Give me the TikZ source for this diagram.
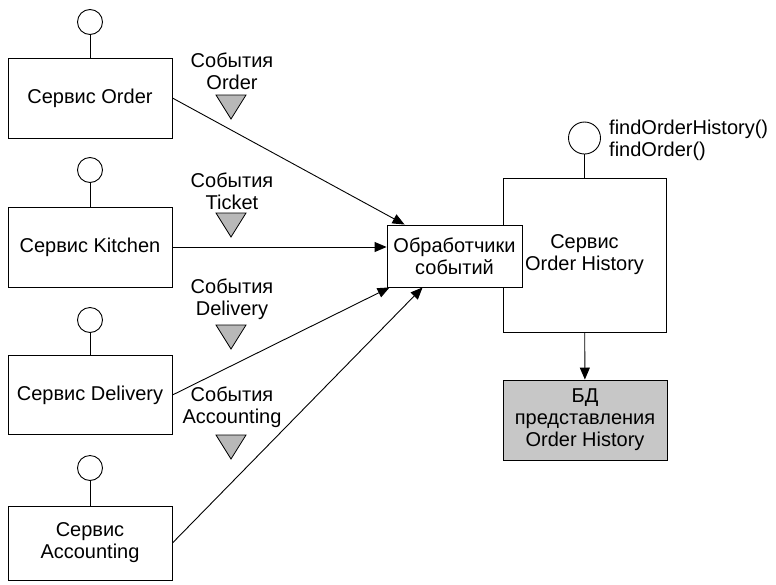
\documentclass[tikz,border=0pt]{standalone}
\usepackage{fontspec}
\setmainfont{Liberation Sans}
\usetikzlibrary{arrows.meta}

\begin{document}
\begin{tikzpicture}[x=1pt, y=-1pt,
    svc/.style={draw, line width=0.9pt, fill=white, minimum width=164pt,
        minimum height=80pt, align=center, inner sep=2pt},
    port/.style={draw, line width=0.9pt, circle, fill=white,
        minimum size=25pt, inner sep=0pt},
    evtri/.style={draw, line width=0.8pt, fill=black!28},
    flow/.style={line width=0.9pt, -{Triangle[length=12pt, width=10pt]}},
    font=\fontsize{20}{22}\selectfont]
    \useasboundingbox (0,0) rectangle (776,584);

    % Сервисы, публикующие события
    \node[svc] (ordersvc) at (90,98) {Сервис Order};
    \node[svc] (kitchensvc) at (90,247) {Сервис Kitchen};
    \node[svc, minimum height=79pt] (deliverysvc) at (90,395) {Сервис Delivery};
    \node[svc, minimum height=74pt] (accountingsvc) at (90,543) {Сервис\\Accounting};

    \foreach \svc/\y in {ordersvc/22, kitchensvc/170, deliverysvc/320, accountingsvc/468} {
        \node[port] (\svc-port) at (90,\y) {};
        \draw[line width=0.9pt] (\svc-port) -- (\svc);
    }

    % Каналы событий
    \foreach \name/\y/\dy in {Order/71/24, Ticket/191/22, Delivery/299/26, Accounting/407/28} {
        \node[align=center] (ev-\name) at (232,\y) {События\\\name};
        \draw[evtri] (216,\y+\dy) -- (246,\y+\dy) -- (231,\y+\dy+24) -- cycle;
    }

    % Сервис запросов
    \node[svc, minimum width=163pt, minimum height=154pt] (historysvc) at (584.5,255)
        {Сервис\\Order History};
    \node[port, minimum size=32pt] (historysvc-port) at (584.5,138) {};
    \draw[line width=0.9pt] (historysvc-port) -- (historysvc);
    \node[anchor=west, align=left, inner sep=0pt] (historysvc-api) at (609,140)
        {findOrderHistory()\\findOrder()};

    \node[svc, minimum width=135pt, minimum height=62pt] (handlers) at (454.5,256)
        {Обработчики\\событий};

    \node[svc, fill=black!22, minimum height=80pt] (historydb) at (585,420)
        {БД\\представления\\Order History};

    % Стрелки
    \draw[flow] (ordersvc.east) -- ([xshift=18pt]handlers.north west);
    \draw[flow] (kitchensvc.east) -- (kitchensvc.east -| handlers.west);
    \draw[flow] (deliverysvc.east) -- ([xshift=3pt]handlers.south west);
    \draw[flow] (accountingsvc.east) -- ([xshift=36pt]handlers.south west);
    \draw[flow] (historysvc) -- (historydb);
\end{tikzpicture}
\end{document}
